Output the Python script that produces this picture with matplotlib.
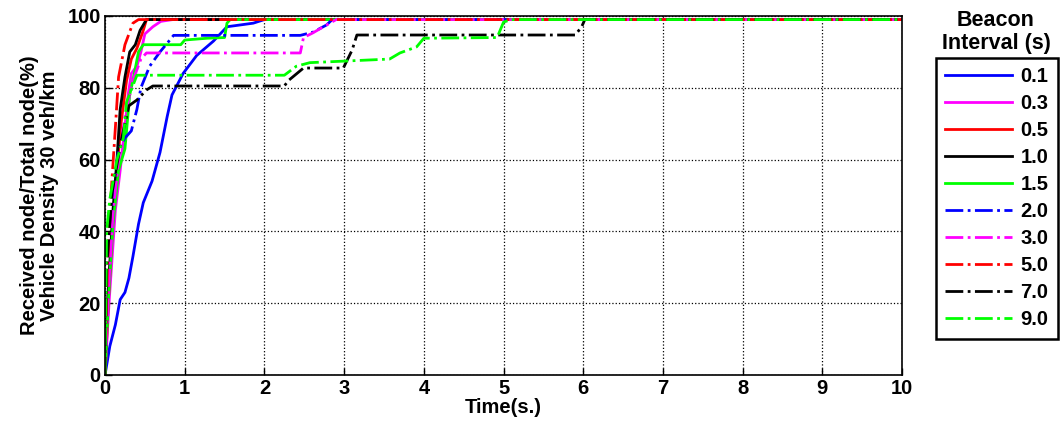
import numpy as np
import matplotlib
matplotlib.use("Agg")
import matplotlib.pyplot as plt

plt.rcParams['font.family'] = ['Liberation Sans', 'DejaVu Sans']
plt.rcParams['font.weight'] = 'bold'

# beacon interval curves (time s, received %)
t_01 = [0, 0.06, 0.13, 0.19, 0.25, 0.3, 0.35, 0.42, 0.48, 0.59, 0.69, 0.78, 0.84, 0.98, 1.15, 1.36, 1.53, 1.86, 2.0, 10]
y_01 = [0, 8, 14, 21, 23, 27, 33, 42, 48, 54, 62, 72, 78, 84, 89, 93, 97, 98, 99, 99]

t_03 = [0, 0.05, 0.13, 0.19, 0.25, 0.29, 0.33, 0.4, 0.45, 0.5, 0.6, 0.7, 0.85, 10]
y_03 = [0, 20, 46, 57, 69, 78, 84, 86, 90, 95, 97, 98.5, 99, 99]

t_05 = [0, 0.04, 0.1, 0.15, 0.2, 0.27, 0.33, 0.4, 0.48, 0.52, 10]
y_05 = [0, 20, 44, 57, 70, 82, 88, 91, 96, 99, 99]

t_10 = [0, 0.03, 0.1, 0.15, 0.19, 0.25, 0.31, 0.38, 0.44, 0.52, 10]
y_10 = [0, 20, 46, 60, 74, 83, 90, 92, 96, 99, 99]

t_15 = [0, 0.04, 0.1, 0.17, 0.25, 0.31, 0.35, 0.42, 0.48, 0.95, 1.0, 1.28, 1.5, 1.53, 1.57, 10]
y_15 = [0, 20, 42, 57, 63, 78, 82, 90, 92, 92, 93.3, 93.8, 94, 98, 99, 99]

t_20 = [0, 0.04, 0.1, 0.17, 0.25, 0.33, 0.4, 0.45, 0.56, 0.69, 0.78, 0.86, 2.45, 2.61, 2.78, 2.85, 10]
y_20 = [0, 25, 50, 63, 66, 68, 74, 80, 86, 90, 92.4, 94.6, 94.6, 95.5, 97.5, 99, 99]

t_30 = [0, 0.04, 0.1, 0.17, 0.25, 0.35, 0.45, 0.52, 2.45, 2.49, 2.6, 2.82, 2.9, 10]
y_30 = [0, 22, 45, 60, 72, 82, 88, 89.7, 89.7, 94, 95.2, 98, 99, 99]

t_50 = [0, 0.03, 0.08, 0.13, 0.17, 0.25, 0.35, 0.42, 10]
y_50 = [0, 30, 52, 69, 83, 92, 98, 99, 99]

t_70 = [0, 0.02, 0.09, 0.2, 0.3, 0.4, 0.52, 0.6, 2.25, 2.3, 2.49, 2.99, 3.1, 3.16, 5.9, 5.98, 6.02, 10]
y_70 = [0, 30, 51, 65, 75, 76.6, 79.4, 80.5, 80.5, 82, 85.5, 85.5, 90.5, 94.7, 94.7, 97, 99, 99]

t_90 = [0, 0.02, 0.06, 0.15, 0.23, 0.27, 0.4, 2.25, 2.4, 2.57, 3.57, 3.7, 3.91, 4.0, 4.92, 5.0, 5.1, 10]
y_90 = [0, 40, 49, 60, 66, 76, 83.5, 83.5, 86, 87, 88, 89.7, 91.4, 93.8, 94, 98.3, 99, 99]

labels = ['0.1', '0.3', '0.5', '1.0', '1.5', '2.0', '3.0', '5.0', '7.0', '9.0']
series = [(t_01, y_01), (t_03, y_03), (t_05, y_05), (t_10, y_10), (t_15, y_15),
          (t_20, y_20), (t_30, y_30), (t_50, y_50), (t_70, y_70), (t_90, y_90)]
colors = ['#0000ff', '#ff00ff', '#ff0000', '#000000', '#00ff00',
          '#0000ff', '#ff00ff', '#ff0000', '#000000', '#00ff00']
styles = ['-'] * 5 + ['-.'] * 5

fig = plt.figure(figsize=(10.63, 4.32), dpi=100)
ax = fig.add_axes([0.0988, 0.132, 0.7498, 0.831])

for (t, y), c, ls, lab in zip(series, colors, styles, labels):
    ax.plot(t, y, color=c, linestyle=ls, linewidth=2.0, label=lab)

ax.set_xlim(0, 10)
ax.set_ylim(0, 100)
ax.set_xticks(range(0, 11))
ax.set_yticks(range(0, 101, 20))
ax.tick_params(direction='in', labelsize=14.5, length=5, width=1, pad=3)
ax.grid(True, linestyle=':', color='black', linewidth=0.9)
for s in ax.spines.values():
    s.set_linewidth(1.2)

ax.set_xlabel('Time(s.)', fontsize=14.5, fontweight='bold', labelpad=0)
ax.set_ylabel('Received node/Total node(%)\nVehicle Density 30 veh/km', fontsize=14.5,
              fontweight='bold', labelpad=6, linespacing=1.05)

leg = ax.legend(loc='upper left', bbox_to_anchor=(0.8805, 0.866), bbox_transform=fig.transFigure,
                borderaxespad=0, fancybox=False, edgecolor='black', framealpha=1,
                prop={'size': 14.5, 'weight': 'bold'}, handlelength=3.35, labelspacing=0.4,
                borderpad=0.45, handletextpad=0.4)
leg.get_frame().set_linewidth(1.8)

fig.text(0.937, 1 - 32 / 432, 'Beacon\nInterval (s)', ha='center', va='center',
         fontsize=15.5, fontweight='bold', linespacing=1.15)

fig.savefig('out.png', dpi=100)
